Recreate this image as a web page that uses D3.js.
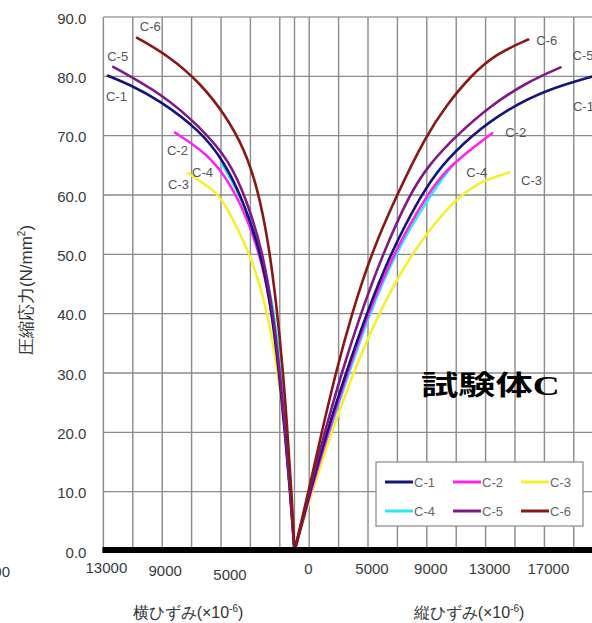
<!DOCTYPE html>
<html><head><meta charset="utf-8">
<script src="https://cdn.jsdelivr.net/npm/d3@7"></script>
<style>
html,body{margin:0;padding:0;background:#fff;}
svg{display:block;}
text{font-family:"Liberation Sans",Arial,sans-serif;}
</style></head>
<body>
<svg id="c" width="592" height="623"></svg>
<script>
// ---- data ----
const series = ["C-1","C-2","C-3","C-4","C-5","C-6"];
const colors = ["#14147a","#ff22ee","#f4f030","#30e8f4","#7e1a86","#861818"];
// lateral strain (x10^-6) vs stress (N/mm2) : [strain, stress]
const latC1 = [[0,0],[300,10],[650,20],[1050,30],[1530,40],[2250,50],[3500,59.2],[4860,65.9],[6400,70.8],[9200,76],[11200,78.6],[12690,80.1]];
const latC2 = [[0,0],[240,8.6],[580,18.7],[990,30.5],[1670,42.3],[2350,50.2],[3710,59.2],[5540,66.4],[8130,70.5]];
const latC3 = [[0,0],[240,8.6],[580,18.7],[1120,30.5],[2010,42.3],[3030,50.2],[4860,59.2],[5540,60.9],[7240,63.7]];
const latC4 = [[0,0],[220,8.6],[520,18.7],[900,30.5],[1500,42.3],[2280,50.2],[3500,59.2],[4930,65.2]];
const latC5 = [[0,0],[280,10],[620,20],[1000,30],[1450,40],[2140,50.2],[3250,59.2],[4450,65.9],[6430,71.5],[9000,77],[12330,81.6]];
const latC6 = [[0,0],[170,8.6],[440,18.7],[780,30.5],[1260,42.3],[1800,52.4],[2480,60.8],[3370,67.6],[4730,73.6],[6430,78.9],[8470,83.3],[10710,86.5]];
// longitudinal strain (x10^-6) vs stress
const lonC1 = [[0,0],[1050,10],[2200,20],[3500,30],[4900,40],[6500,50],[8600,60],[10000,65],[12000,70],[14500,74.5],[17200,77.8],[20300,80]];
const lonC2 = [[0,0],[1100,10],[2300,20],[3600,30],[5000,40],[6700,50],[8990,60],[10460,64.8],[13450,70.4]];
const lonC3 = [[0,0],[1200,10],[2500,20],[4000,30],[5700,40],[7900,50],[10400,58],[12300,62],[14600,63.8]];
const lonC4 = [[0,0],[1100,10],[2350,20],[3700,30],[5100,40],[6800,50],[9220,60],[10800,65.2]];
const lonC5 = [[0,0],[1000,10],[2050,20],[3200,30],[4500,40],[6000,50],[7800,60],[9100,65],[11000,70],[13300,75],[15800,79],[18100,81.5]];
const lonC6 = [[0,0],[950,10],[1850,20],[2800,30],[3900,40],[5200,50],[6950,60],[8950,70],[10300,75],[11950,80],[13700,83.8],[15900,86.2]];
const lateral = [latC1,latC2,latC3,latC4,latC5,latC6];
const longitudinal = [lonC1,lonC2,lonC3,lonC4,lonC5,lonC6];
const yTicks = [0,10,20,30,40,50,60,70,80,90];
const leftTickLabels = [13000,9000,5000];
const rightTickLabels = [0,5000,9000,13000,17000];
const leftGrid = [1000,3000,5000,7000,9000,11000,13000];
const rightGrid = [1000,3000,5000,7000,9000,11000,13000,15000,17000,19000];

// ---- scales ----
const svg = d3.select("#c");
const x0 = 294.5, plotL = 103.4, plotR = 592, plotT = 17, plotB = 551;
const y = d3.scaleLinear().domain([0,90]).range([plotB,plotT]);
const xL = d3.scaleLinear().domain([0,13000]).range([x0,plotL]);
const xR = d3.scaleLinear().domain([0,20000]).range([x0,x0+(x0-plotL)*20000/13000]);

// ---- grid ----
const grid = svg.append("g").attr("stroke","#8a8a8a").attr("stroke-width",1.4);
yTicks.filter(v=>v>0).forEach(v=>{
  grid.append("line").attr("x1",plotL).attr("x2",plotR).attr("y1",y(v)).attr("y2",y(v))
    .attr("stroke", v===90 ? "#a0a0a0" : null);
});
leftGrid.forEach(v=>grid.append("line").attr("x1",xL(v)).attr("x2",xL(v)).attr("y1",plotT).attr("y2",plotB));
rightGrid.forEach(v=>grid.append("line").attr("x1",xR(v)).attr("x2",xR(v)).attr("y1",plotT).attr("y2",plotB));
grid.append("line").attr("x1",x0).attr("x2",x0).attr("y1",plotT).attr("y2",plotB);

// ---- y axis labels ----
const ya = svg.append("g").attr("transform",`translate(${plotL},1.5)`)
  .call(d3.axisLeft(y).tickValues(yTicks).tickFormat(d3.format(".1f")).tickSize(0).tickPadding(17));
ya.select(".domain").remove();
ya.selectAll("text").attr("font-size",15).attr("fill","#3a3a3a").attr("font-family","Liberation Sans, Arial, sans-serif");

// ---- legend box ----
const lg = svg.append("g");
lg.append("rect").attr("x",376).attr("y",462).attr("width",207).attr("height",64)
  .attr("fill","#fff").attr("stroke","#909090").attr("stroke-width",1.3);
series.forEach((s,i)=>{
  const col = i%3, row = Math.floor(i/3);
  const lx = 385 + col*68, ly = 482 + row*29;
  lg.append("line").attr("x1",lx).attr("x2",lx+28).attr("y1",ly).attr("y2",ly)
    .attr("stroke",colors[i]).attr("stroke-width",3);
  lg.append("text").attr("x",lx+29).attr("y",ly+4.5).text(s)
    .attr("font-size",13).attr("fill","#666");
});

// ---- curves ----
const curve = d3.curveBasis;
const lineL = d3.line().x(d=>xL(d[0])).y(d=>y(d[1])).curve(curve);
const lineR = d3.line().x(d=>xR(d[0])).y(d=>y(d[1])).curve(curve);
const order = [3,2,1,0,4,5];
const cg = svg.append("g").attr("fill","none").attr("stroke-width",2.6).attr("stroke-linecap","round");
order.forEach(i=>{
  cg.append("path").attr("d",lineL(lateral[i])).attr("stroke",colors[i]);
  cg.append("path").attr("d",lineR(longitudinal[i])).attr("stroke",colors[i]);
});

// ---- curve labels ----
const lab = svg.append("g").attr("font-size",13).attr("fill","#555");
const labsL = [["C-6",10730,86.5,3,-7],["C-5",12330,81.6,-6,-6],["C-1",12690,80.1,-2,25],["C-2",8130,70.5,-8,22],["C-4",4930,65.2,-30,13],["C-3",7240,63.7,-20,16]];
labsL.forEach(([t,sx,sy,dx,dy])=>lab.append("text").attr("x",xL(sx)+dx).attr("y",y(sy)+dy).text(t));
const labsR = [["C-6",15900,86.2,8,5],["C-5",18100,81.5,12,-7],["C-1",20100,80,-17,35],["C-2",13450,70.4,13,4],["C-4",10800,65.2,13,13],["C-3",14600,63.8,12,13]];
labsR.forEach(([t,sx,sy,dx,dy])=>lab.append("text").attr("x",xR(sx)+dx).attr("y",y(sy)+dy).text(t));

// ---- baseline ----
svg.append("line").attr("x1",plotL-1).attr("x2",plotR).attr("y1",plotB-1).attr("y2",plotB-1)
  .attr("stroke","#000").attr("stroke-width",6);

// ---- x tick labels ----
const xt = svg.append("g").attr("font-size",15).attr("fill","#3a3a3a").attr("text-anchor","middle");
leftTickLabels.forEach(v=>xt.append("text").attr("x",xL(v)+(v===5000?9:3)).attr("y",v===13000?573:(v===9000?576:580)).text(v));
rightTickLabels.forEach(v=>xt.append("text").attr("x",xR(v)+(v===0?14:4)).attr("y",574).text(v));
// cropped neighbour label
svg.append("text").attr("x",10).attr("y",577).attr("text-anchor","end").attr("font-size",15).attr("fill","#3a3a3a").text("000");

// ---- axis titles ----
const tf = "'Noto Sans CJK JP','Liberation Sans',sans-serif";
function title(g, x, yy, main){
  const t = g.append("text").attr("x",x).attr("y",yy).attr("text-anchor","middle")
    .attr("font-size",16).attr("fill","#333").attr("font-family",tf);
  t.append("tspan").text(main+"(×10");
  t.append("tspan").attr("font-size",10).attr("dy",-6).text("-6");
  t.append("tspan").attr("dy",6).text(")");
}
title(svg,188,618,"横ひずみ");
title(svg,469,618,"縦ひずみ");
const yt = svg.append("text").attr("transform","translate(32,290) rotate(-90)").attr("text-anchor","middle")
  .attr("font-size",17).attr("fill","#333").attr("font-family",tf);
yt.append("tspan").text("圧縮応力(N/mm");
yt.append("tspan").attr("font-size",10).attr("dy",-7).text("2");
yt.append("tspan").attr("dy",7).text(")");

// ---- specimen label ----
const sp = svg.append("text").attr("transform","translate(421,395) scale(1.38,1)")
  .attr("font-size",27).attr("font-weight","bold").attr("fill","#000");
sp.append("tspan").attr("font-family","'Noto Sans CJK JP',sans-serif").text("試験体");
sp.append("tspan").attr("font-family","'Liberation Serif',serif").text("C");
</script>
</body></html>
